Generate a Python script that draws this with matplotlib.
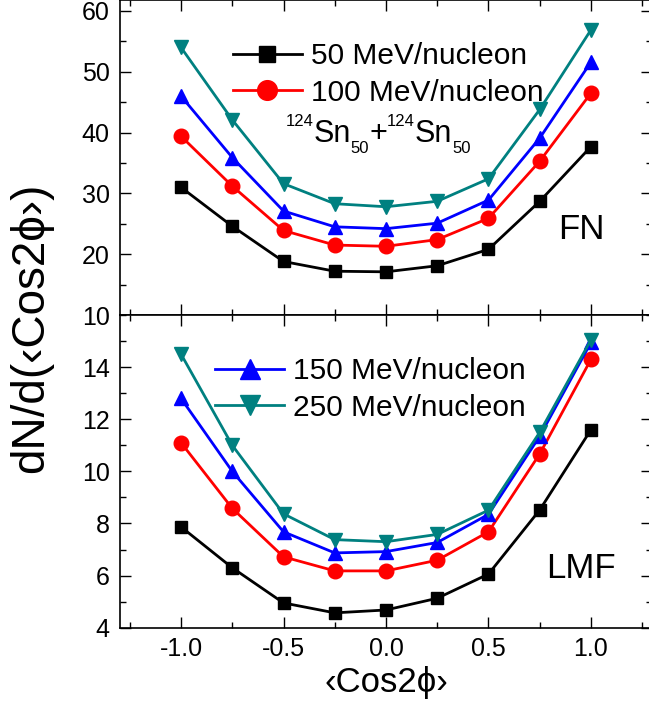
import matplotlib
matplotlib.use('Agg')
import matplotlib.pyplot as plt
from matplotlib.ticker import MultipleLocator, FormatStrFormatter
from matplotlib.transforms import offset_copy, IdentityTransform

plt.rcParams['font.family'] = ['Liberation Sans', 'DejaVu Sans']

# valores
cos2phi = [-1.0, -0.75, -0.5, -0.25, 0.0, 0.25, 0.5, 0.75, 1.0]

fn_50 = [31.0, 24.6, 18.8, 17.2, 17.1, 18.1, 20.8, 28.7, 37.7]
fn_100 = [39.4, 31.2, 23.9, 21.5, 21.3, 22.4, 25.9, 35.3, 46.5]
fn_150 = [46.0, 35.9, 27.1, 24.5, 24.2, 25.1, 28.9, 39.1, 51.6]
fn_250 = [54.0, 42.1, 31.6, 28.3, 27.8, 28.7, 32.4, 43.8, 56.9]

lmf_50 = [7.87, 6.30, 4.95, 4.57, 4.68, 5.13, 6.06, 8.52, 11.6]
lmf_100 = [11.1, 8.58, 6.72, 6.18, 6.18, 6.59, 7.68, 10.67, 14.3]
lmf_150 = [12.8, 10.0, 7.68, 6.87, 6.92, 7.27, 8.35, 11.35, 14.95]
lmf_250 = [14.5, 11.0, 8.37, 7.38, 7.30, 7.58, 8.51, 11.5, 15.05]

labels = ['50 MeV/nucleon', '100 MeV/nucleon', '150 MeV/nucleon', '250 MeV/nucleon']
colors = ['black', 'red', 'blue', '#008080']
markers = ['s', 'o', '^', 'v']
msizes = [9, 10.5, 10.5, 10.5]

fig = plt.figure(figsize=(6.49, 7.06), dpi=100)
# el marco derecho queda fuera de la imagen, como en el original
ax1 = fig.add_axes([119.5/649, 1 - 315/706, 533/649, 315/706])
ax2 = fig.add_axes([119.5/649, 1 - 627.7/706, 533/649, 312.7/706])

lines_top = []
for ys, c, m, ms, lab in zip([fn_50, fn_100, fn_150, fn_250], colors, markers, msizes, labels):
    l, = ax1.plot(cos2phi, ys, color=c, marker=m, markersize=ms, linewidth=2, label=lab)
    lines_top.append(l)
for ys, c, m, ms, lab in zip([lmf_50, lmf_100, lmf_150, lmf_250], colors, markers, msizes, labels):
    ax2.plot(cos2phi, ys, color=c, marker=m, markersize=ms, linewidth=2, label=lab)

for ax in (ax1, ax2):
    ax.set_xlim(-1.3, 1.3)
    ax.xaxis.set_major_locator(MultipleLocator(0.5))
    ax.xaxis.set_minor_locator(MultipleLocator(0.25))
    ax.tick_params(which='both', direction='in', top=True, right=True, labelsize=18, pad=7)
    ax.tick_params(which='major', length=8, width=1)
    ax.tick_params(which='minor', length=4, width=1)
    for s in ax.spines.values():
        s.set_linewidth(1.2)

ax1.set_ylim(10, 61.8)
ax1.yaxis.set_major_locator(MultipleLocator(10))
ax1.yaxis.set_minor_locator(MultipleLocator(5))
ax1.tick_params(labelbottom=False)

ax2.set_ylim(4, 16)
ax2.set_yticks([4, 6, 8, 10, 12, 14])
ax2.yaxis.set_minor_locator(MultipleLocator(1))
ax2.xaxis.set_major_formatter(FormatStrFormatter('%.1f'))
ax2.set_xlabel('\u2039Cos2\u03d5\u203a', fontsize=25, labelpad=3)

fig.text(0.048, 0.536, 'dN/d(\u2039Cos2\u03d5\u203a)', rotation=90, fontsize=33,
         ha='center', va='center')

leg_kw = dict(loc='upper left', frameon=False, fontsize=21.5, handlelength=2.3,
              markerscale=1.35, labelspacing=0.29, handletextpad=0.3,
              borderpad=0, borderaxespad=0)
ax1.legend(handles=lines_top[:2], bbox_to_anchor=(0.213, 0.866), **leg_kw)
h2, l2 = ax2.get_legend_handles_labels()
ax2.legend(h2[2:], l2[2:], bbox_to_anchor=(0.180, 0.865), **leg_kw)

# 124Sn50+124Sn50 con superindices y subindices
pieces = [('124', 12, 12), ('Sn', 22, 0), ('50', 12, -7.6), ('+', 22, 0),
          ('124', 12, 12), ('Sn', 22, 0), ('50', 12, -7.6)]
fig.canvas.draw()
renderer = fig.canvas.get_renderer()
x0, y0 = ax1.transData.transform((-0.491, 38.4))
xcur = x0
for s, size, dy in pieces:
    tr = offset_copy(IdentityTransform(), fig=fig, x=0, y=dy, units='points')
    t = fig.text(xcur, y0, s, fontsize=size, ha='left', va='baseline', transform=tr)
    xcur = t.get_window_extent(renderer).x1

ax1.text(0.954, 24.0, 'FN', fontsize=25, ha='center', va='center')
ax2.text(0.951, 6.28, 'LMF', fontsize=25, ha='center', va='center')

plt.savefig('out.png', dpi=100)
